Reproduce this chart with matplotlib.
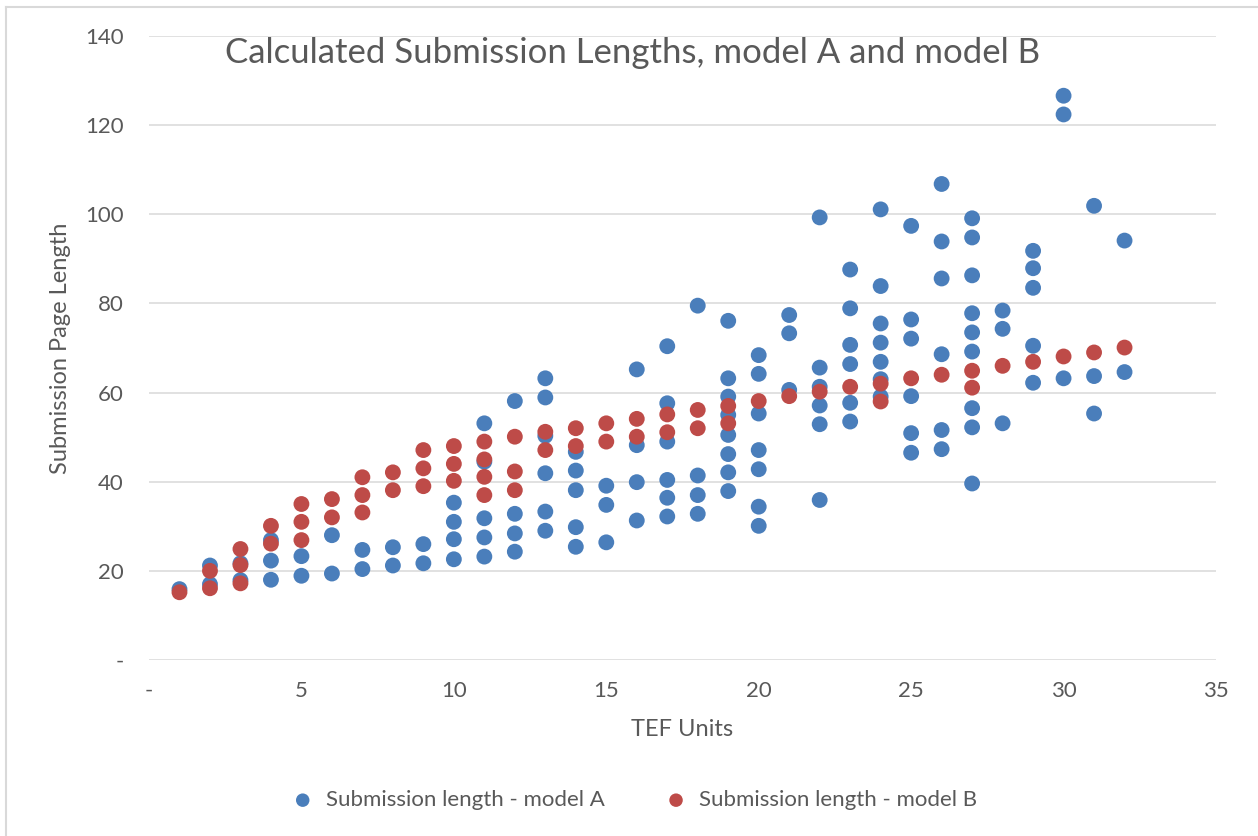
import numpy as np
from matplotlib import pyplot as plt
from matplotlib.lines import Line2D

plt.rcParams['font.family'] = ['Lato', 'DejaVu Sans']

# TEF units 1..32, calculated page lengths
units = list(range(1, 33))

pages_a = [
    [15.9],
    [21.2, 17.0],
    [21.7, 17.9],
    [26.9, 22.3, 18.0],
    [23.3, 18.9],
    [28.0, 19.4],
    [24.7, 20.4],
    [25.3, 21.2],
    [26.0, 21.7],
    [35.3, 31.0, 27.1, 22.6],
    [53.1, 44.5, 31.8, 27.5, 23.2],
    [58.1, 32.8, 28.4, 24.3],
    [63.2, 58.9, 50.3, 41.9, 33.3, 29.0],
    [46.7, 42.5, 38.1, 29.8, 25.4],
    [39.1, 34.8, 26.4],
    [65.2, 48.2, 39.9, 31.3],
    [70.4, 57.6, 49.0, 40.4, 36.4, 32.2],
    [79.5, 41.4, 37.0, 32.8],
    [76.1, 63.2, 59.1, 55.0, 50.5, 46.2, 42.1, 37.9],
    [68.4, 64.2, 55.3, 47.1, 42.8, 34.4, 30.1],
    [77.4, 73.3, 60.6],
    [99.3, 65.6, 61.3, 57.1, 52.9, 35.9],
    [87.6, 78.9, 70.7, 66.4, 57.7, 53.5],
    [101.1, 83.9, 75.5, 71.2, 66.9, 63.0, 59.1],
    [97.4, 76.4, 72.1, 59.2, 50.9, 46.5],
    [106.8, 93.9, 85.6, 68.6, 51.6, 47.3],
    [99.1, 94.8, 86.3, 77.8, 73.5, 69.2, 56.5, 52.2, 39.6],
    [78.4, 74.3, 53.1],
    [91.8, 87.9, 83.5, 70.5, 62.2],
    [126.6, 122.4, 63.2],
    [101.9, 63.7, 55.3],
    [94.1, 64.6],
]

pages_b = [
    [15.2],
    [20.0, 16.1],
    [24.9, 21.3, 17.2],
    [30.1, 26.1],
    [35.0, 31.0, 26.9],
    [36.1, 32.0],
    [41.0, 37.0, 33.1],
    [42.1, 38.1],
    [47.1, 43.0, 39.0],
    [48.0, 44.0, 40.2],
    [49.0, 45.0, 41.1, 37.0],
    [50.1, 42.3, 38.1],
    [51.2, 47.1],
    [52.0, 48.0],
    [53.1, 49.0],
    [54.1, 50.1],
    [55.1, 51.1],
    [56.1, 52.0],
    [57.0, 53.1],
    [58.1],
    [59.2],
    [60.2],
    [61.3],
    [62.0, 58.0],
    [63.2],
    [64.0],
    [64.9, 61.1],
    [66.0],
    [66.9],
    [68.1],
    [69.0],
    [70.1],
]

x_ticks = [0, 5, 10, 15, 20, 25, 30, 35]
x_ticklabels = ['-', '5', '10', '15', '20', '25', '30', '35']
y_ticks = [0, 20, 40, 60, 80, 100, 120, 140]
y_ticklabels = ['-', '20', '40', '60', '80', '100', '120', '140']


def flatten(pages):
    xs, ys = [], []
    for u, vals in zip(units, pages):
        xs += [u] * len(vals)
        ys += vals
    return np.array(xs), np.array(ys)


xa, ya = flatten(pages_a)
xb, yb = flatten(pages_b)

blue = '#4a7ebb'
red = '#be4b48'
grey = '#595959'

fig = plt.figure(figsize=(12.58, 8.36), dpi=100)
ax = fig.add_axes([149 / 1258, 1 - 660 / 836, (1216 - 149) / 1258, (660 - 36) / 836])

ax.scatter(xa, ya, s=130, color=blue, edgecolors='none', label='Submission length - model A', zorder=3)
ax.scatter(xb, yb, s=130, color=red, edgecolors='none', label='Submission length - model B', zorder=4)

ax.set_xlim(0, 35)
ax.set_ylim(0, 140)
ax.set_xticks(x_ticks)
ax.set_xticklabels(x_ticklabels)
ax.set_yticks(y_ticks)
ax.set_yticklabels(y_ticklabels)
ax.tick_params(length=0, labelsize=16, colors=grey)
ax.tick_params(axis='y', pad=18)
ax.tick_params(axis='x', pad=15)
ax.grid(axis='y', color='#d9d9d9', linewidth=1.1)
ax.set_axisbelow(True)
for s in ax.spines.values():
    s.set_visible(False)

ax.set_xlabel('TEF Units', fontsize=17, color=grey, labelpad=13)
ax.set_ylabel('Submission Page Length', fontsize=17, color=grey, labelpad=10)

fig.text(633 / 1258, 1 - 53 / 836, 'Calculated Submission Lengths, model A and model B',
         fontsize=25, color=grey, ha='center', va='center')

fig.legend(loc='center', bbox_to_anchor=(0.5, 1 - 800 / 836), ncol=2, frameon=False,
           fontsize=16, labelcolor=grey, handletextpad=0.05, columnspacing=2.2,
           markerscale=0.85)

# chart area border (left and top visible)
fig.add_artist(Line2D([6 / 1258, 6 / 1258], [0, 1 - 7 / 836], color='#d9d9d9', linewidth=1.5))
fig.add_artist(Line2D([6 / 1258, 1], [1 - 7 / 836, 1 - 7 / 836], color='#d9d9d9', linewidth=1.5))

fig.savefig('out.png', dpi=100)
